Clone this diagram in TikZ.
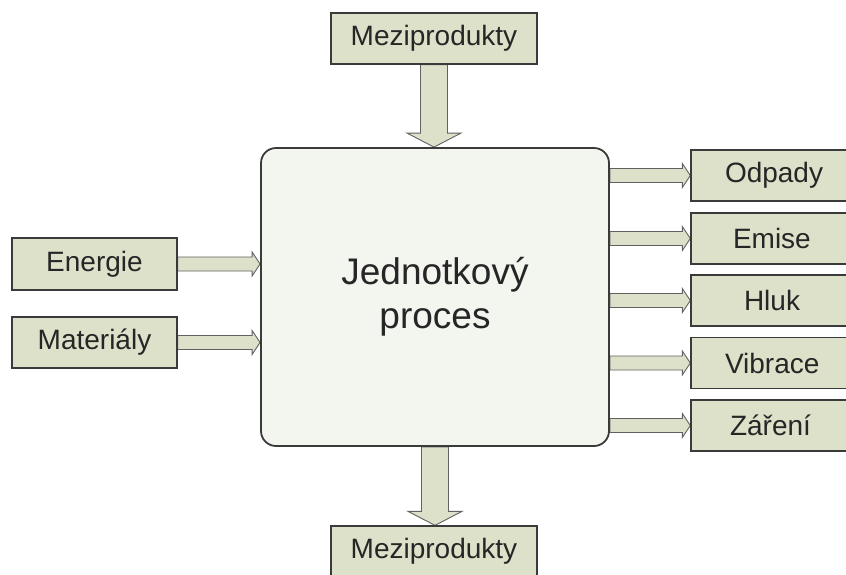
\documentclass[tikz,border=0pt]{standalone}
\usepackage{fontspec}
\setmainfont{Liberation Sans}
\usetikzlibrary{calc,backgrounds}
\definecolor{boxfill}{HTML}{DDE1C9}
\definecolor{mainfill}{HTML}{F3F5EF}
\definecolor{edge}{HTML}{3A3A3A}
\tikzset{
  lbl/.style={draw=edge, line width=1.3pt, fill=boxfill, rectangle, inner sep=0pt,
    font=\fontsize{28}{33}\selectfont, text=black!85},
  harrow/.style={draw=edge!80, line width=0.9pt, fill=boxfill, to path={
    let \p1=(\tikztostart), \p2=(\tikztotarget) in
    (\x1,\y1+7pt) -- (\x2-8pt,\y1+7pt) -- (\x2-8pt,\y1+12pt) -- (\x2,\y1)
    -- (\x2-8pt,\y1-12pt) -- (\x2-8pt,\y1-7pt) -- (\x1,\y1-7pt) -- cycle}},
  varrow/.style={draw=edge!80, line width=0.9pt, fill=boxfill, to path={
    let \p1=(\tikztostart), \p2=(\tikztotarget) in
    (\x1-13.5pt,\y1) -- (\x1-13.5pt,\y2+14pt) -- (\x1-27pt,\y2+14pt) -- (\x1,\y2)
    -- (\x1+27pt,\y2+14pt) -- (\x1+13.5pt,\y2+14pt) -- (\x1+13.5pt,\y1) -- cycle}}
}
\begin{document}
\begin{tikzpicture}[x=1pt,y=-1pt]
\useasboundingbox (0,0) rectangle (846,574);
\node[draw=edge, line width=1.8pt, fill=mainfill, rounded corners=15pt,
  minimum width=348pt, minimum height=298pt, align=center,
  font=\fontsize{37}{44}\selectfont, text=black!85] (main) at (435,297) {Jednotkový\\proces};
\node[lbl, minimum width=206pt, minimum height=51pt] (mtop) at (434,38.5) {Meziprodukty};
\node[lbl, minimum width=206pt, minimum height=51pt] (mbot) at (434,551.5) {Meziprodukty};
\node[lbl, minimum width=165pt, minimum height=52pt] (en) at (94.5,264) {Energie};
\node[lbl, minimum width=165pt, minimum height=51pt] (mat) at (94.5,342.5) {Materiály};
\node[lbl, minimum width=160pt, minimum height=51pt, text width=154pt, align=left] (od) at (771,175.5) {\hspace{31pt}Odpady};
\node[lbl, minimum width=160pt, minimum height=51pt, text width=154pt, align=left] (em) at (771,238.5) {\hspace{39pt}Emise};
\node[lbl, minimum width=160pt, minimum height=51pt, text width=154pt, align=left] (hl) at (771,300.5) {\hspace{50pt}Hluk};
\node[lbl, minimum width=160pt, minimum height=51pt, text width=154pt, align=left] (vi) at (771,363) {\hspace{31pt}Vibrace};
\node[lbl, minimum width=160pt, minimum height=51pt, text width=154pt, align=left] (za) at (771,425.5) {\hspace{36pt}Záření};
\begin{scope}[on background layer]
\draw[varrow] (mtop.south) to (main.north);
\draw[varrow] (main.south) to (mbot.north);
\draw[harrow] (en.east) to (main.west |- en.east);
\draw[harrow] (mat.east) to (main.west |- mat.east);
\draw[harrow] (main.east |- od.west) to (od.west);
\draw[harrow] (main.east |- em.west) to (em.west);
\draw[harrow] (main.east |- hl.west) to (hl.west);
\draw[harrow] (main.east |- vi.west) to (vi.west);
\draw[harrow] (main.east |- za.west) to (za.west);
\end{scope}
\end{tikzpicture}
\end{document}
